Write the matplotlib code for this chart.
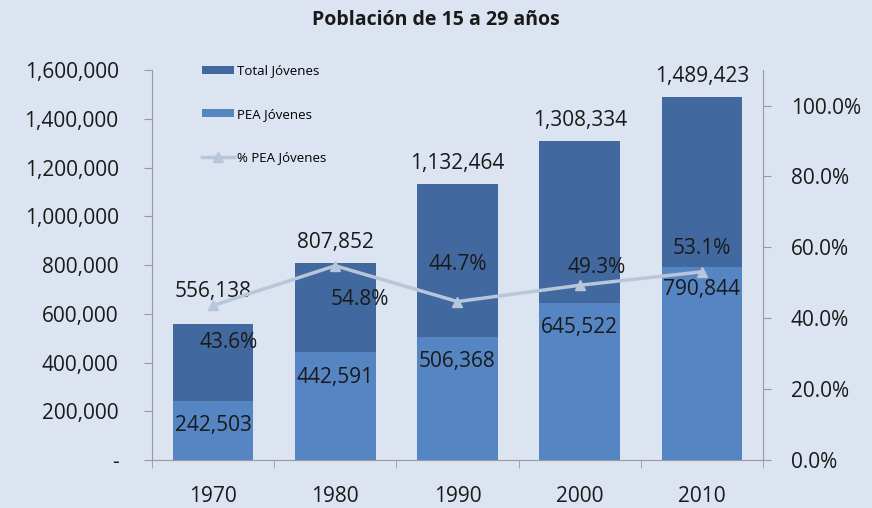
import numpy as np
import matplotlib.pyplot as plt
from matplotlib.ticker import FuncFormatter, FixedLocator

years = ["1970", "1980", "1990", "2000", "2010"]
total_jovenes = [556138, 807852, 1132464, 1308334, 1489423]
pea_jovenes = [242503, 442591, 506368, 645522, 790844]
pct_pea = [0.436, 0.548, 0.447, 0.493, 0.531]

# label offsets in points (dx, dy)
total_off = [(0, 24), (0, 15), (0, 15), (0, 15), (0, 15)]
pea_off = [(0, -18), (0, -18), (0, -18), (0, -18), (0, -16)]
pct_off = [(11, -27), (18, -24), (0, 27), (12, 13), (0, 17)]

bg = "#DBE4F0"
dark = "#4169A0"
light = "#5585C3"
line_c = "#B7C6DA"
txt = "#1a1a1a"
fs = 15

plt.rcParams['font.family'] = ['Open Sans', 'DejaVu Sans']

fig = plt.figure(figsize=(8.72, 5.08), dpi=100, facecolor=bg)
ax = fig.add_axes([0.1743, 0.0945, 0.7007, 0.7675])
ax.set_facecolor(bg)
x = np.arange(len(years))

b1 = ax.bar(x, total_jovenes, width=0.66, color=dark, label="Total Jóvenes", zorder=2)
b2 = ax.bar(x, pea_jovenes, width=0.66, color=light, label="PEA Jóvenes", zorder=3)

ax.set_xlim(-0.5, len(years) - 0.5)
ax.set_ylim(0, 1600000)
ax.set_yticks(np.arange(0, 1600001, 200000))
ax.yaxis.set_major_formatter(FuncFormatter(lambda v, p: "-" if v == 0 else f"{v:,.0f}"))
ax.set_xticks(x)
ax.set_xticklabels(years)
ax.xaxis.set_minor_locator(FixedLocator(np.arange(-0.5, len(years), 1.0)))
ax.tick_params(axis='x', which='major', length=0, labelsize=fs, pad=19, colors=txt)
ax.tick_params(axis='x', which='minor', length=6, color="#9a9a9a")
ax.tick_params(axis='y', length=6, color="#9a9a9a", labelsize=fs, pad=18, colors=txt)
for s in ["top", "right"]:
    ax.spines[s].set_visible(False)
for s in ["left", "bottom"]:
    ax.spines[s].set_color("#9a9a9a")

for i in range(len(years)):
    ax.annotate(f"{total_jovenes[i]:,}", (x[i], total_jovenes[i]), xytext=total_off[i],
                textcoords="offset points", ha="center", va="center", fontsize=fs, color=txt, zorder=5)
    ax.annotate(f"{pea_jovenes[i]:,}", (x[i], pea_jovenes[i]), xytext=pea_off[i],
                textcoords="offset points", ha="center", va="center", fontsize=fs, color=txt, zorder=5)

ax2 = ax.twinx()
ax2.set_ylim(0, 1.1)
ax2.set_yticks(np.arange(0, 1.01, 0.2))
ax2.yaxis.set_major_formatter(FuncFormatter(lambda v, p: f"{v * 100:.1f}%"))
ax2.tick_params(axis='y', length=6, color="#9a9a9a", labelsize=fs, pad=14, colors=txt)
for s in ["top", "left", "bottom"]:
    ax2.spines[s].set_visible(False)
ax2.spines["right"].set_color("#9a9a9a")
ln, = ax2.plot(x, pct_pea, color=line_c, lw=2.5, marker="^", markersize=7,
               markerfacecolor=line_c, markeredgecolor=line_c, label="% PEA Jóvenes", zorder=4)
for i in range(len(years)):
    ax2.annotate(f"{pct_pea[i] * 100:.1f}%", (x[i], pct_pea[i]), xytext=pct_off[i],
                 textcoords="offset points", ha="center", va="center", fontsize=fs, color=txt)

leg = ax.legend(handles=[b1, b2, ln], loc="upper left", bbox_to_anchor=(0.063, 1.045),
                frameon=False, fontsize=9.5, labelspacing=2.3, handlelength=2.4,
                handleheight=0.5, handletextpad=0.2)

fig.suptitle("Población de 15 a 29 años", y=0.98, fontsize=14, fontweight="bold", color=txt)

fig.savefig("out.png", dpi=100, facecolor=bg)
